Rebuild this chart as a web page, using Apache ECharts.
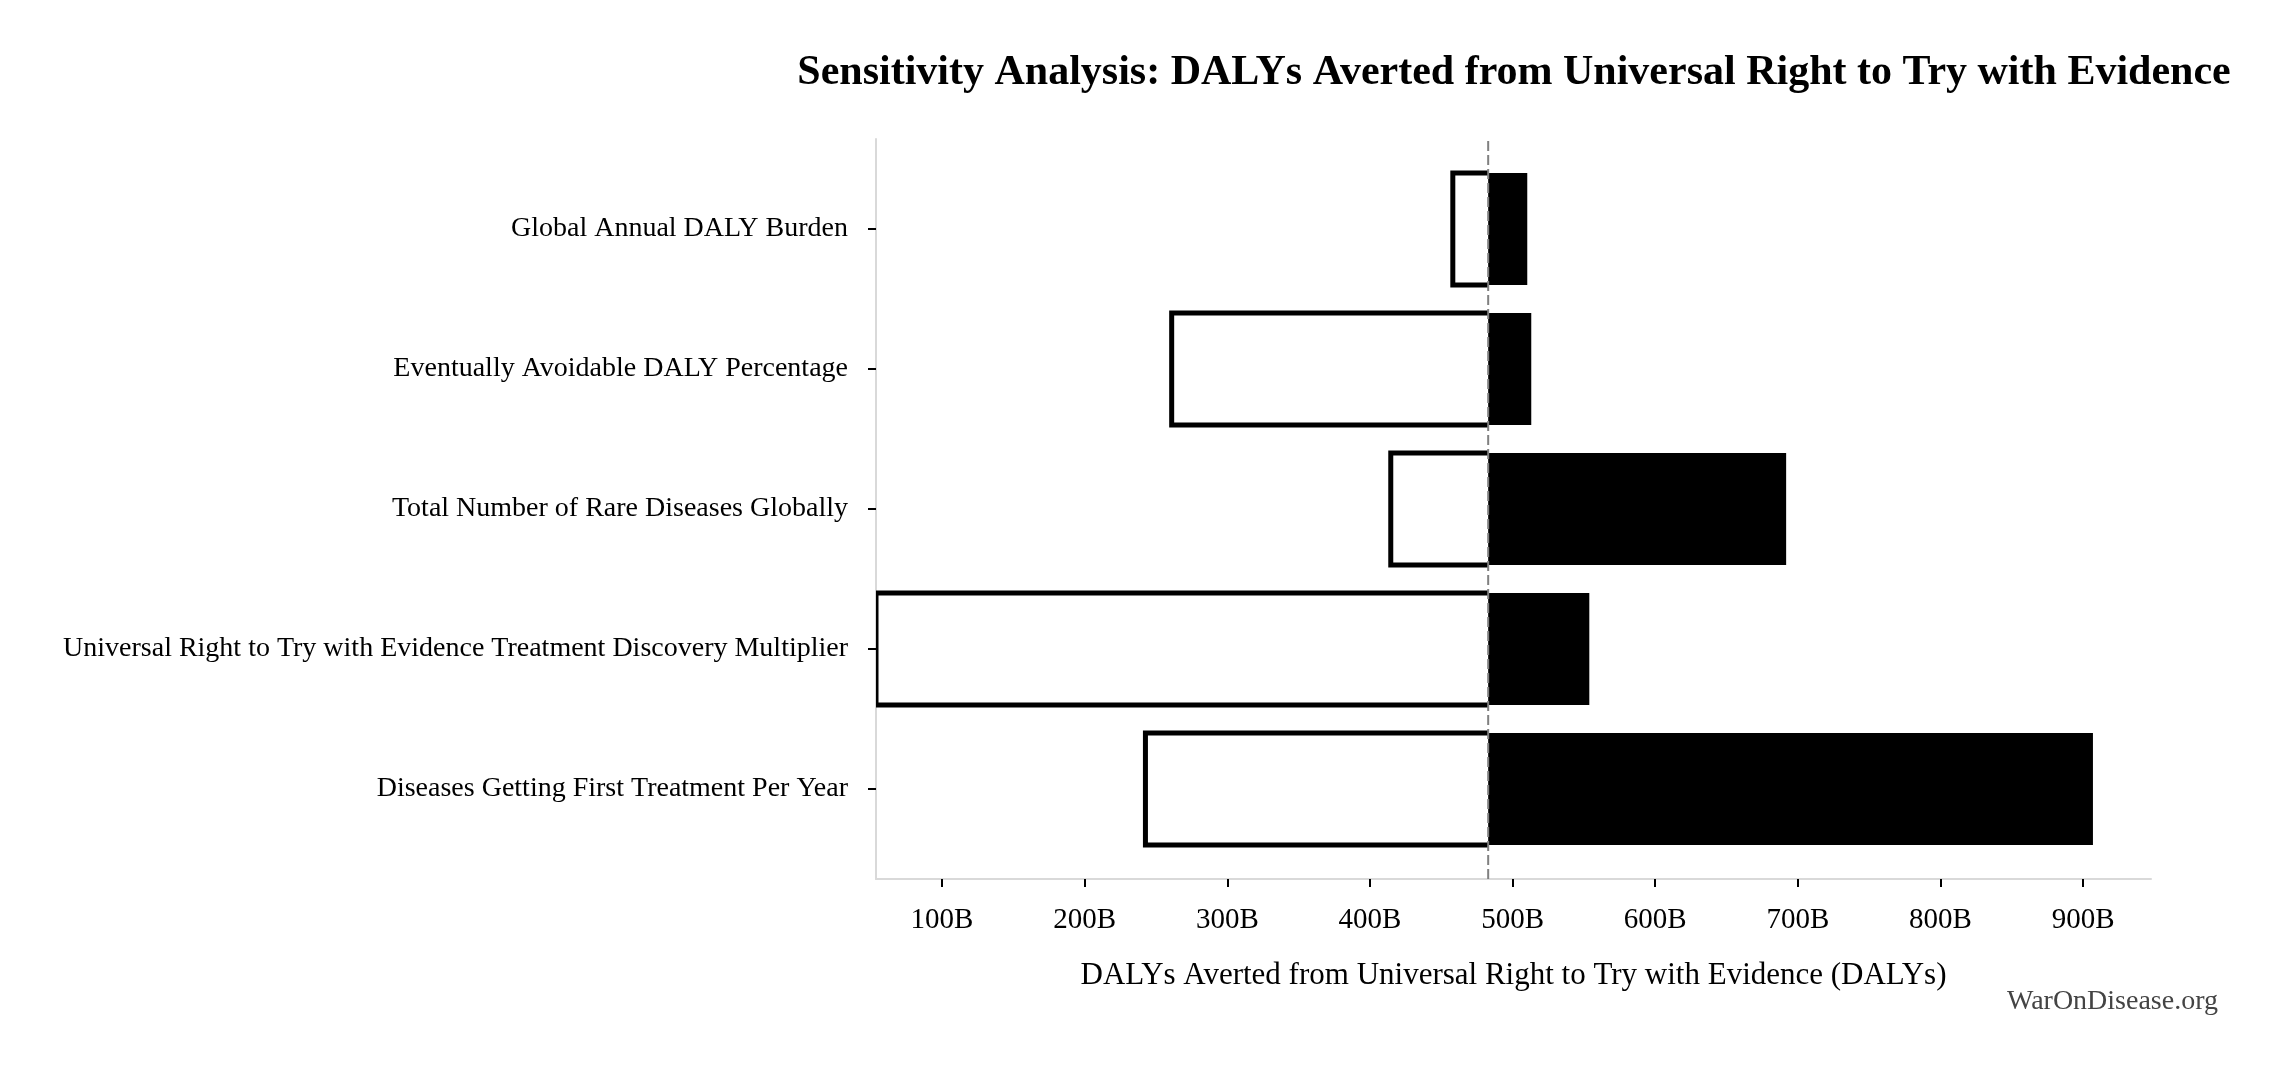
<!DOCTYPE html>
<html>
<head>
<meta charset="utf-8">
<script src="https://cdn.jsdelivr.net/npm/echarts@6/dist/echarts.min.js"></script>
<style>
  html, body { margin: 0; padding: 0; background: #fff; }
  #chart { width: 2285px; height: 1071px; }
</style>
</head>
<body>
<div id="chart"></div>
<script>
// values in billions of DALYs
var categories = [
    'Global Annual DALY Burden',
    'Eventually Avoidable DALY Percentage',
    'Total Number of Rare Diseases Globally',
    'Universal Right to Try with Evidence Treatment Discovery Multiplier',
    'Diseases Getting First Treatment Per Year'
];
var lowValues = [458.1, 261.0, 414.6, 53.7, 242.6];
var highValues = [510.3, 513.1, 691.8, 553.8, 906.9];
var baseline = 482.9;
var xTicks = [100, 200, 300, 400, 500, 600, 700, 800, 900];
var xMin = 53.7, xMax = 947.6;

var FONT = "'Liberation Serif', 'DejaVu Serif', serif";

var lowData = categories.map(function (c, i) { return [i, lowValues[i], baseline]; });
var highData = categories.map(function (c, i) { return [i, baseline, highValues[i]]; });

function lowItem(params, api) {
    var i = api.value(0);
    var a = api.coord([api.value(1), i]);
    var b = api.coord([api.value(2), i]);
    var h = api.size([0, 1])[1] * 0.8;
    var top = a[1] - h / 2, bot = a[1] + h / 2;
    return {
        type: 'group',
        children: [{
            type: 'rect',
            shape: { x: a[0], y: top, width: b[0] - a[0], height: h },
            style: { fill: '#fff' }
        }, {
            type: 'polyline',
            shape: { points: [[b[0], top], [a[0], top], [a[0], bot], [b[0], bot]] },
            style: { fill: null, stroke: '#000', lineWidth: 5 }
        }]
    };
}

function highItem(params, api) {
    var i = api.value(0);
    var a = api.coord([api.value(1), i]);
    var b = api.coord([api.value(2), i]);
    var h = api.size([0, 1])[1] * 0.8;
    return {
        type: 'rect',
        shape: { x: a[0], y: a[1] - h / 2, width: b[0] - a[0], height: h },
        style: { fill: '#000' }
    };
}

var chart = echarts.init(document.getElementById('chart'));
chart.setOption({
    backgroundColor: '#fff',
    animation: false,
    title: {
        text: 'Sensitivity Analysis: DALYs Averted from Universal Right to Try with Evidence',
        left: 1509,
        textAlign: 'center',
        top: 47,
        textStyle: { fontFamily: FONT, fontWeight: 'bold', fontSize: 42, color: '#000' }
    },
    graphic: [{
        type: 'text',
        right: 67,
        top: 988,
        style: { text: 'WarOnDisease.org', fontFamily: FONT, fontSize: 28, fill: '#444' }
    }],
    grid: [
        { left: 876, right: 134, top: 159, bottom: 212 },
        { left: 876, right: 134, top: 139, bottom: 192 }
    ],
    xAxis: [{
        gridIndex: 0,
        type: 'value',
        min: xMin,
        max: xMax,
        show: false
    }, {
        gridIndex: 1,
        type: 'value',
        min: xMin,
        max: xMax,
        name: 'DALYs Averted from Universal Right to Try with Evidence (DALYs)',
        nameLocation: 'middle',
        nameGap: 81,
        nameTextStyle: { fontFamily: FONT, fontSize: 31, color: '#000' },
        axisLine: { show: true, lineStyle: { color: '#d9d9d9', width: 2 } },
        axisTick: { show: true, customValues: xTicks, length: 8, lineStyle: { color: '#000', width: 2 } },
        axisLabel: {
            customValues: xTicks,
            margin: 27,
            fontFamily: FONT,
            fontSize: 29,
            color: '#000',
            formatter: function (v) { return v + 'B'; }
        },
        splitLine: { show: false }
    }],
    yAxis: [{
        gridIndex: 0,
        type: 'category',
        inverse: true,
        data: categories,
        axisLine: { show: false },
        axisTick: { show: true, alignWithLabel: true, length: 8, lineStyle: { color: '#000', width: 2 } },
        axisLabel: { margin: 28, fontFamily: FONT, fontSize: 28, color: '#000' },
        splitLine: { show: false }
    }, {
        gridIndex: 1,
        type: 'value',
        min: 0,
        max: 1,
        axisLine: { show: true, lineStyle: { color: '#d9d9d9', width: 2 } },
        axisTick: { show: false },
        axisLabel: { show: false },
        splitLine: { show: false }
    }],
    series: [{
        name: 'low',
        type: 'custom',
        xAxisIndex: 0,
        yAxisIndex: 0,
        clip: true,
        renderItem: lowItem,
        encode: { y: 0, x: [1, 2] },
        data: lowData
    }, {
        name: 'high',
        type: 'custom',
        xAxisIndex: 0,
        yAxisIndex: 0,
        clip: true,
        renderItem: highItem,
        encode: { y: 0, x: [1, 2] },
        data: highData
    }, {
        name: 'baseline',
        type: 'line',
        xAxisIndex: 1,
        yAxisIndex: 1,
        symbol: 'none',
        z: 5,
        lineStyle: { color: '#808080', width: 2, type: [10, 4] },
        data: [[baseline, 0], [baseline, 1]]
    }]
});
</script>
</body>
</html>
